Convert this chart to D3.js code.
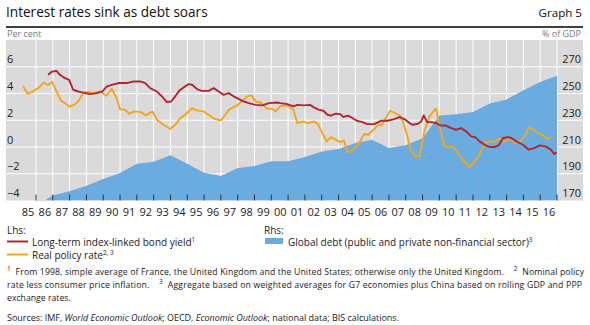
<!DOCTYPE html>
<html>
<head>
<meta charset="utf-8">
<script src="https://cdn.jsdelivr.net/npm/d3@7"></script>
<style>
body { margin: 0; background: #fff; }
svg text { font-family: "Open Sans", "Noto Sans", sans-serif; white-space: pre; }
</style>
</head>
<body>
<svg id="chart" width="590" height="325"></svg>
<script>
// year labels on the x axis
var years = d3.range(1985, 2017);

// global debt, % of GDP, year-end values (plotted at the end of each year)
var debtYears = [1985,1986,1987,1988,1989,1990,1991,1992,1993,1994,1995,1996,1997,1998,1999,2000,
  2001,2002,2003,2004,2005,2006,2007,2008,2009,2010,2011,2012,2013,2014,2015,2016];
var debtValues = [166,173.8,177,181,186,190.5,197.5,199,203.8,197.5,190.8,188.3,194.3,195.8,199.3,199.3,
  202.5,206.7,208.5,213,215.5,209.3,211.3,216.5,233.5,234.5,236.2,242.5,245.5,252.5,258.6,263.2];

// long-term index-linked bond yield, per cent
var bondDates = [1986.72,1986.96,1987.22,1987.42,1987.72,1987.97,1988.21,1988.51,1988.81,1989.21,1989.61,1989.95,
  1990.2,1990.5,1990.9,1991.4,1991.8,1992.2,1992.5,1992.79,1993.19,1993.49,1993.79,1994.04,1994.28,1994.52,1994.78,
  1995.08,1995.28,1995.58,1995.87,1996.27,1996.57,1996.87,1997.17,1997.47,1997.77,1998.07,1998.37,1998.66,1999.06,
  1999.46,1999.86,2000.35,2000.55,2000.95,2001.31,2001.55,2001.95,2002.3,2002.54,2002.84,2003.1,2003.34,2003.54,
  2003.84,2004.1,2004.29,2004.53,2004.77,2005.09,2005.43,2005.72,2006.12,2006.52,2006.92,2007.32,2007.62,2007.92,
  2008.22,2008.42,2008.72,2008.92,2009.07,2009.27,2009.51,2009.81,2010.07,2010.35,2010.7,2011.0,2011.3,2011.6,
  2011.9,2012.13,2012.39,2012.69,2012.99,2013.29,2013.53,2013.79,2014.09,2014.29,2014.58,2014.98,2015.32,2015.64,
  2015.98,2016.31,2016.63,2016.83,2016.98];
var bondValues = [5.40,5.64,5.69,5.40,5.15,5.02,4.28,4.15,4.07,3.95,4.03,4.15,
  4.52,4.65,4.78,4.78,4.90,4.90,4.78,4.40,4.15,3.78,3.36,3.40,3.78,4.20,4.45,
  4.70,4.65,4.33,4.20,4.20,4.40,4.15,3.90,4.03,3.78,3.58,3.40,3.28,3.15,
  3.11,3.28,3.33,3.28,3.21,3.03,3.15,3.11,3.15,2.96,2.78,2.71,2.41,2.34,
  2.49,2.46,2.24,2.34,2.21,1.96,1.86,1.71,1.71,1.96,1.96,2.09,2.24,2.09,
  1.79,1.66,1.74,1.91,2.36,1.86,1.86,1.79,1.61,1.61,1.41,1.29,1.41,1.16,
  0.79,0.74,0.42,0.17,0.00,0.00,0.12,0.67,0.74,0.67,0.42,0.17,-0.20,-0.08,
  0.12,0.05,-0.20,-0.52,-0.40];

// real policy rate, per cent
var policyDates = [1985.23,1985.49,1985.82,1986.12,1986.48,1986.72,1986.96,1987.22,1987.48,1987.72,1987.97,1988.27,
  1988.51,1988.81,1989.11,1989.41,1989.81,1990.2,1990.5,1990.8,1991.0,1991.3,1991.55,1991.85,1992.25,1992.53,
  1992.93,1993.19,1993.59,1993.98,1994.28,1994.58,1994.88,1995.28,1995.58,1995.98,1996.27,1996.63,1997.0,1997.27,
  1997.51,1997.87,1998.17,1998.57,1998.83,1999.06,1999.36,1999.76,2000.06,2000.26,2000.56,2000.96,2001.31,2001.55,
  2001.85,2002.15,2002.54,2002.78,2003.04,2003.3,2003.54,2003.84,2004.1,2004.33,2004.53,2004.77,2005.03,2005.29,
  2005.53,2005.77,2006.08,2006.36,2006.56,2006.82,2007.08,2007.36,2007.72,2008.02,2008.32,2008.58,2008.82,2009.11,
  2009.41,2009.67,2009.81,2010.01,2010.31,2010.51,2010.81,2011.1,2011.4,2011.8,2012.1,2012.39,2012.73,2012.99,
  2013.29,2013.59,2013.89,2014.25,2014.49,2014.78,2015.08,2015.32,2015.58,2015.84,2016.12,2016.38,2016.63];
var policyValues = [4.57,3.98,4.15,4.40,4.82,4.63,4.87,4.15,3.48,3.28,3.03,3.15,
  3.40,4.03,4.13,4.03,4.15,3.83,4.35,3.65,2.83,2.78,2.49,2.66,2.61,2.36,
  2.66,2.04,1.66,1.34,1.66,2.16,2.41,2.91,2.74,2.66,2.41,2.09,1.99,2.41,
  2.83,3.03,3.33,3.78,3.87,3.40,3.33,2.86,2.86,2.66,3.08,3.08,2.78,1.79,
  1.91,1.79,1.91,1.71,1.04,0.42,0.74,0.54,0.37,0.47,-0.37,-0.32,-0.02,0.42,
  0.97,0.92,1.29,1.66,1.61,2.16,2.71,2.54,2.29,1.16,-0.32,-0.70,-0.70,1.16,
  2.29,2.71,2.86,1.54,0.05,0.00,0.05,-0.45,-0.95,-1.52,-1.07,-0.57,0.30,0.42,
  0.42,0.62,0.42,0.67,0.30,0.42,0.79,1.46,1.34,1.04,0.92,0.62,0.67];

var leftTicks = [-4, -2, 0, 2, 4, 6];
var rightTicks = [170, 190, 210, 230, 250, 270];

var red = "#b0282d", orange = "#f3a51c", blue = "#6aace0", panel = "#dadada";

var svg = d3.select("#chart");

var plot = { left: 6, right: 583, top: 40, bottom: 200.5 };

var x = d3.scaleLinear().domain([1985, 2017]).range([19.2, 557]);
var yL = d3.scaleLinear().domain([-4, 8]).range([plot.bottom, plot.top]);
var yR = d3.scaleLinear().domain([170, 290]).range([plot.bottom, plot.top]);

// title
svg.append("text").attr("x", 6).attr("y", 17).attr("font-size", 13.6).attr("fill", "#111")
  .text("Interest rates sink as debt soars");
svg.append("text").attr("x", 582).attr("y", 17).attr("font-size", 11.6).attr("fill", "#111")
  .attr("text-anchor", "end").text("Graph 5");
svg.append("line").attr("x1", 6).attr("x2", 583).attr("y1", 27).attr("y2", 27)
  .attr("stroke", "#000").attr("stroke-width", 1.4);

svg.append("text").attr("x", 7).attr("y", 37).attr("font-size", 9).attr("fill", "#7a7a7a").text("Per cent");
svg.append("text").attr("x", 581).attr("y", 37).attr("font-size", 9).attr("fill", "#7a7a7a")
  .attr("text-anchor", "end").text("% of GDP");

// panel
svg.append("rect").attr("x", plot.left).attr("y", plot.top)
  .attr("width", plot.right - plot.left).attr("height", plot.bottom - plot.top).attr("fill", panel);

svg.append("clipPath").attr("id", "clip").append("rect")
  .attr("x", plot.left).attr("y", plot.top)
  .attr("width", plot.right - plot.left).attr("height", plot.bottom - plot.top);

// grid
var grid = svg.append("g").attr("stroke", "#fff").attr("stroke-width", 1);
grid.selectAll(".v").data(d3.range(1986, 2018)).enter().append("line")
  .attr("x1", function(d) { return x(d); }).attr("x2", function(d) { return x(d); })
  .attr("y1", plot.top).attr("y2", plot.bottom);
grid.selectAll(".h").data([-2, 0, 2, 4, 6]).enter().append("line")
  .attr("x1", plot.left).attr("x2", plot.right)
  .attr("y1", function(d) { return yL(d); }).attr("y2", function(d) { return yL(d); });

// debt area (rhs)
var debt = debtYears.map(function(d, i) { return { x: d + 1, v: debtValues[i] }; });
var area = d3.area()
  .x(function(d) { return x(d.x); })
  .y0(plot.bottom)
  .y1(function(d) { return yR(d.v); });
svg.append("path").datum(debt).attr("clip-path", "url(#clip)")
  .attr("d", area).attr("fill", blue);

// lines (lhs)
var line = d3.line()
  .x(function(d) { return x(d.x); })
  .y(function(d) { return yL(d.v); });

var policy = policyDates.map(function(d, i) { return { x: d, v: policyValues[i] }; });
var bond = bondDates.map(function(d, i) { return { x: d, v: bondValues[i] }; });

svg.append("path").datum(policy).attr("d", line).attr("fill", "none")
  .attr("stroke", orange).attr("stroke-width", 1.9).attr("stroke-linejoin", "round");
svg.append("path").datum(bond).attr("d", line).attr("fill", "none")
  .attr("stroke", red).attr("stroke-width", 1.9).attr("stroke-linejoin", "round");

// bottom tick marks at year boundaries
svg.append("g").selectAll("line").data(d3.range(1986, 2018)).enter().append("line")
  .attr("x1", function(d) { return x(d); }).attr("x2", function(d) { return x(d); })
  .attr("y1", plot.bottom - 6).attr("y2", plot.bottom)
  .attr("stroke", "#333").attr("stroke-width", 1);

// axes
var xAxis = d3.axisBottom(x)
  .tickValues(years.map(function(d) { return d + 0.5; }))
  .tickSize(0).tickPadding(0)
  .tickFormat(function(d) { return String(Math.floor(d)).slice(2); });
var gx = svg.append("g").attr("transform", "translate(0," + (plot.bottom + 8) + ")").call(xAxis);

var leftAxis = d3.axisRight(yL).tickValues(leftTicks).tickSize(0).tickPadding(0)
  .tickFormat(function(d) { return d < 0 ? "\u2212" + Math.abs(d) : d; });
var gl = svg.append("g").attr("transform", "translate(7,0)").call(leftAxis);

var rightAxis = d3.axisLeft(yR).tickValues(rightTicks).tickSize(0).tickPadding(0);
var gr = svg.append("g").attr("transform", "translate(581,0)").call(rightAxis);

[gx, gl, gr].forEach(function(g) {
  g.select(".domain").remove();
  g.selectAll("text").attr("font-family", null).attr("font-size", 11).attr("fill", "#222");
});
gl.selectAll("text").attr("dy", "-0.35em");
gr.selectAll("text").attr("dy", "-0.35em");

// legend
var lg = svg.append("g").attr("font-size", 10).attr("fill", "#222");
lg.append("text").attr("x", 7).attr("y", 234).text("Lhs:");
lg.append("text").attr("x", 264).attr("y", 234).text("Rhs:");

function legendLabel(xp, yp, label, sup) {
  var t = lg.append("text").attr("x", xp).attr("y", yp);
  t.append("tspan").text(label);
  t.append("tspan").attr("dy", -4).attr("font-size", 6.5).text(sup);
}
lg.append("line").attr("x1", 7).attr("x2", 28).attr("y1", 241.5).attr("y2", 241.5)
  .attr("stroke", red).attr("stroke-width", 2);
legendLabel(32, 245.5, "Long-term index-linked bond yield", "1");
lg.append("line").attr("x1", 7).attr("x2", 28).attr("y1", 254.5).attr("y2", 254.5)
  .attr("stroke", orange).attr("stroke-width", 2);
legendLabel(32, 258.5, "Real policy rate", "2, 3");
lg.append("rect").attr("x", 265).attr("y", 238).attr("width", 18).attr("height", 6).attr("fill", blue);
legendLabel(288, 245.5, "Global debt (public and private non-financial sector)", "3");

// footnotes
var fn = svg.append("g").attr("font-size", 8.7).attr("fill", "#222");
function noteLine(yp, parts, len, size) {
  var t = fn.append("text").attr("x", 7).attr("y", yp);
  if (len) t.attr("textLength", len).attr("lengthAdjust", "spacing");
  if (size) t.attr("font-size", size);
  parts.forEach(function(p) {
    var s = t.append("tspan").text(p.t);
    if (p.sup) s.attr("font-size", 6.5).attr("baseline-shift", "super");
    if (p.it) s.attr("font-style", "italic");
  });
}
noteLine(275, [{ t: "1", sup: true }, { t: "  From 1998, simple average of France, the United Kingdom and the United States; otherwise only the United Kingdom.    " },
  { t: "2", sup: true }, { t: "  Nominal policy" }], 577);
noteLine(288, [{ t: "rate less consumer price inflation.    " }, { t: "3", sup: true },
  { t: "  Aggregate based on weighted averages for G7 economies plus China based on rolling GDP and PPP" }], 575);
noteLine(301, [{ t: "exchange rates." }]);
noteLine(321, [{ t: "Sources: IMF, " }, { t: "World Economic Outlook", it: true }, { t: "; OECD, " },
  { t: "Economic Outlook", it: true }, { t: "; national data; BIS calculations." }], 392, 9);
</script>
</body>
</html>
